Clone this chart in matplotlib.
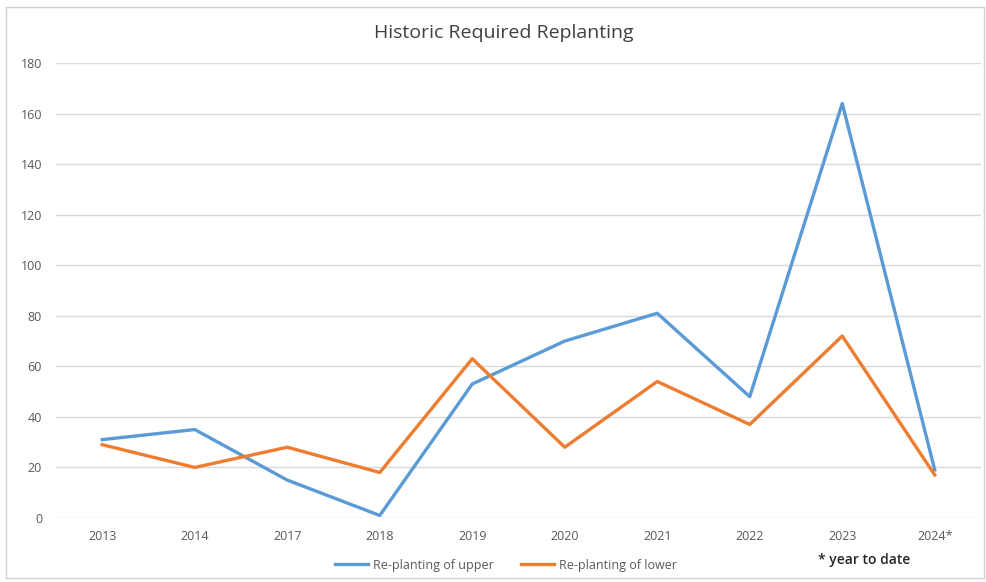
import matplotlib
matplotlib.use("Agg")
import matplotlib.pyplot as plt
from matplotlib.patches import Rectangle
from matplotlib.lines import Line2D

years = ["2013", "2014", "2017", "2018", "2019", "2020", "2021", "2022", "2023", "2024*"]
upper = [31, 35, 15, 1, 53, 70, 81, 48, 164, 19]
lower = [29, 20, 28, 18, 63, 28, 54, 37, 72, 17]
yticks = [0, 20, 40, 60, 80, 100, 120, 140, 160, 180]

plt.rcParams['font.family'] = ['Open Sans', 'DejaVu Sans']

fig = plt.figure(figsize=(9.86, 5.82), dpi=100)
W, H = 986, 582
ax = fig.add_axes([56 / W, 1 - 518 / H, (981 - 56) / W, (518 - 63) / H])

x = list(range(len(years)))
ax.plot(x, upper, color="#5B9BD5", lw=2.4, solid_joinstyle="round", label="Re-planting of upper", zorder=3)
ax.plot(x, lower, color="#ED7D31", lw=2.4, solid_joinstyle="round", label="Re-planting of lower", zorder=3)

ax.set_xlim(-0.5, len(years) - 0.5)
ax.set_ylim(0, 180)
ax.set_yticks(yticks)
ax.set_xticks(x)
ax.set_xticklabels(years)
ax.grid(axis="y", color="#d9d9d9", lw=1)
ax.set_axisbelow(True)
for s in ax.spines.values():
    s.set_visible(False)
ax.tick_params(axis="both", length=0, labelsize=9, colors="#595959")
ax.tick_params(axis="y", pad=10)
ax.tick_params(axis="x", pad=9)

fig.text(504 / W, 1 - 33 / H, "Historic Required Replanting", ha="center", va="center",
         fontsize=14, color="#404040")

handles = [Line2D([], [], color="#5B9BD5", lw=2.4), Line2D([], [], color="#ED7D31", lw=2.4)]
fig.legend(handles, ["Re-planting of upper", "Re-planting of lower"], loc="center",
           bbox_to_anchor=(506 / W, 1 - 565 / H), ncol=2, frameon=False, fontsize=9,
           labelcolor="#595959", handlelength=2.6, handletextpad=0.4, columnspacing=2.2)

fig.text(818 / W, 1 - 560 / H, "* year to date", ha="left", va="center", fontsize=10,
         fontweight="semibold", color="#262626")

fig.patches.append(Rectangle((6 / W, 4 / H), (W - 8) / W, (H - 11) / H, transform=fig.transFigure,
                             fill=False, edgecolor="#d0d0d0", lw=1))

fig.savefig("out.png", dpi=100, facecolor="white")
